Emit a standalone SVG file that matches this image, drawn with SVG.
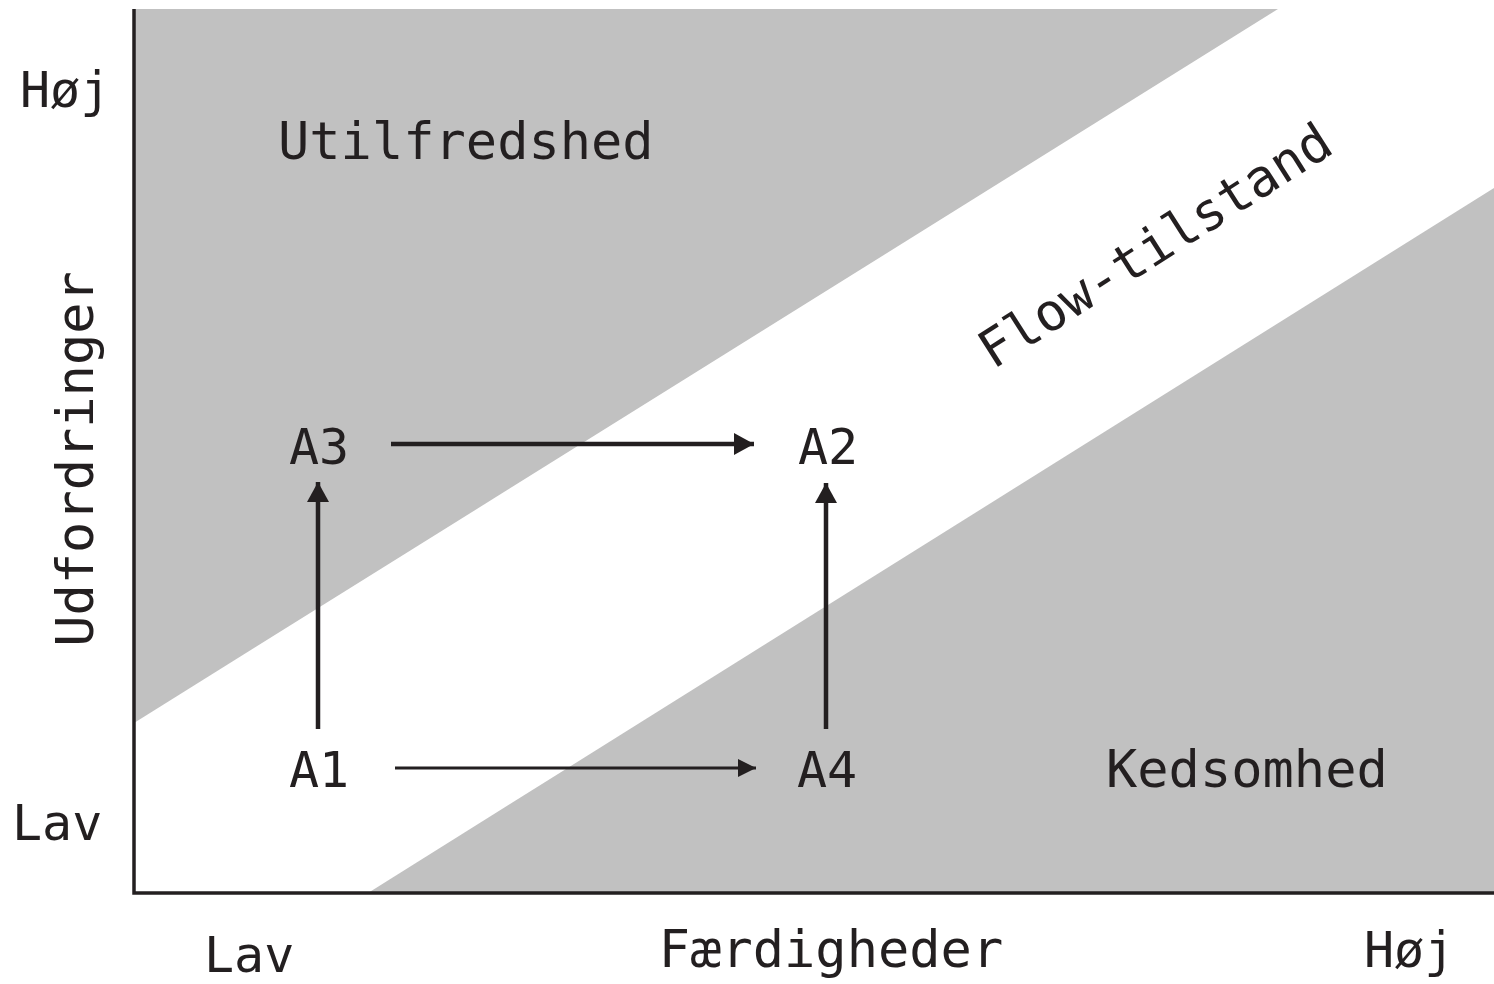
<svg xmlns="http://www.w3.org/2000/svg" width="1494" height="984" viewBox="0 0 1494 984">
  <style>
    .lbl { font-family: "DejaVu Sans Mono", "Liberation Mono", monospace; fill: #231f20; }
    .axis { stroke: #231f20; stroke-width: 3.5; fill: none; }
    .zone { fill: #c1c1c1; }
    .thick { stroke: #231f20; stroke-width: 4.5; fill: none; }
    .thin { stroke: #231f20; stroke-width: 2.8; fill: none; }
  </style>
  <defs>
    <marker id="headL" markerUnits="userSpaceOnUse" markerWidth="20" markerHeight="22" viewBox="0 0 20 22" refX="20" refY="11" orient="auto">
      <path d="M0,0 L20,11 L0,22 Z" fill="#231f20"/>
    </marker>
    <marker id="headS" markerUnits="userSpaceOnUse" markerWidth="18" markerHeight="18" viewBox="0 0 18 18" refX="18" refY="9" orient="auto">
      <path d="M0,0 L18,9 L0,18 Z" fill="#231f20"/>
    </marker>
  </defs>

  <rect width="1494" height="984" fill="#ffffff"/>

  <!-- shaded zones of the chart -->
  <g id="zones">
    <polygon class="zone" points="134,9 1278,9 134,723"/>
    <polygon class="zone" points="368,893 1494,188 1494,893"/>
  </g>

  <!-- axes -->
  <g id="axes">
    <polyline class="axis" points="134,9 134,893 1494,893"/>
  </g>

  <!-- axis labels -->
  <g id="axis-labels">
    <text class="lbl" x="20" y="107" font-size="50">Høj</text>
    <text class="lbl" x="12" y="840" font-size="50">Lav</text>
    <text class="lbl" x="0" y="0" font-size="52" transform="translate(93,459) rotate(-90)" text-anchor="middle">Udfordringer</text>
    <text class="lbl" x="204" y="972" font-size="50">Lav</text>
    <text class="lbl" x="831" y="967" font-size="52" text-anchor="middle">Færdigheder</text>
    <text class="lbl" x="1364" y="967" font-size="50">Høj</text>
  </g>

  <!-- region labels -->
  <g id="region-utilfredshed">
    <text class="lbl" x="278" y="159" font-size="52">Utilfredshed</text>
  </g>
  <g id="region-flow">
    <text class="lbl" x="0" y="0" font-size="52" transform="translate(993,370) rotate(-32.5)">Flow-tilstand</text>
  </g>
  <g id="region-kedsomhed">
    <text class="lbl" x="1106" y="787" font-size="52">Kedsomhed</text>
  </g>

  <!-- nodes -->
  <g id="A3">
    <text class="lbl" x="319" y="464" font-size="50" text-anchor="middle">A3</text>
  </g>
  <g id="A2">
    <text class="lbl" x="828" y="464" font-size="50" text-anchor="middle">A2</text>
  </g>
  <g id="A1">
    <text class="lbl" x="319" y="787" font-size="50" text-anchor="middle">A1</text>
  </g>
  <g id="A4">
    <text class="lbl" x="827" y="787" font-size="50" text-anchor="middle">A4</text>
  </g>

  <!-- connectors -->
  <g id="connectors">
    <line class="thick" x1="391" y1="444" x2="754" y2="444" marker-end="url(#headL)"/>
    <line class="thin" x1="395" y1="768" x2="756" y2="768" marker-end="url(#headS)"/>
    <line class="thick" x1="318" y1="729" x2="318" y2="482" marker-end="url(#headL)"/>
    <line class="thick" x1="826" y1="729" x2="826" y2="483" marker-end="url(#headL)"/>
  </g>
</svg>
